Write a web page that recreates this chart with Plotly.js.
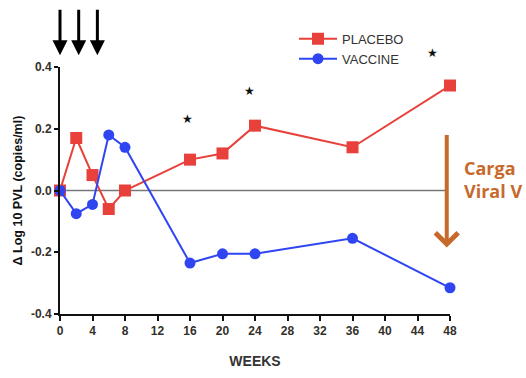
<!DOCTYPE html>
<html>
<head>
<meta charset="utf-8">
<script src="https://cdn.plot.ly/plotly-3.0.1.min.js"></script>
<style>html,body{margin:0;padding:0;background:#fff;overflow:hidden}#chart{width:526px;height:378px}</style>
</head>
<body>
<div id="chart"></div>
<script>
const weeks = [0, 2, 4, 6, 8, 16, 20, 24, 36, 48];
const placebo = [0.0, 0.17, 0.05, -0.06, 0.0, 0.10, 0.12, 0.21, 0.14, 0.34];
const vaccine = [0.0, -0.075, -0.045, 0.18, 0.14, -0.235, -0.205, -0.205, -0.155, -0.315];
const xTicks = [0, 4, 8, 12, 16, 20, 24, 28, 32, 36, 40, 44, 48];
const yTicks = [-0.4, -0.2, 0.0, 0.2, 0.4];
const yTickText = ['-0.4', '-0.2', '0.0', '0.2', '0.4'];
const starWeeks = [15.75, 23.3, 45.8];
const starValues = [0.234, 0.325, 0.449];
const doseWeeks = [0, 2.3, 4.6];

const red = '#e8403a';
const blue = '#2f45f2';
const orange = '#c8692c';
const font = 'Arial, Liberation Sans, sans-serif';

const traces = [
  {x: weeks, y: placebo, name: 'PLACEBO', mode: 'lines+markers', cliponaxis: false,
   line: {color: red, width: 2}, marker: {symbol: 'square', size: 12, color: red}},
  {x: weeks, y: vaccine, name: 'VACCINE', mode: 'lines+markers', cliponaxis: false,
   line: {color: blue, width: 2}, marker: {symbol: 'circle', size: 11, color: blue}}
];

// star values expressed as paper fraction of the y range [-0.4, 0.4]
const annotations = [];
starWeeks.forEach((w, i) => annotations.push({
  x: w, y: (starValues[i] + 0.4) / 0.8, xref: 'x', yref: 'paper', yshift: 10,
  text: '★', showarrow: false, font: {size: 12, color: '#111'}
}));
doseWeeks.forEach(w => annotations.push({
  x: w, y: 1.048, xref: 'x', yref: 'paper', text: '', showarrow: true,
  ax: 0, ay: -47, arrowhead: 2, arrowsize: 1, arrowwidth: 3, arrowcolor: '#000'
}));
annotations.push({
  x: 47.6, y: -0.185, xref: 'x', yref: 'y', text: '', showarrow: true,
  ax: 0, ay: -114, arrowhead: 4, arrowsize: 1.1, arrowwidth: 4, arrowcolor: orange
});
annotations.push({
  x: 1.03, y: 0.545, xref: 'paper', yref: 'paper', xanchor: 'left', yanchor: 'middle', align: 'left',
  text: '<b>Carga<br>Viral V</b>', showarrow: false,
  font: {family: 'Open Sans, Arial, sans-serif', size: 18, color: orange}
});

const layout = {
  width: 526, height: 378,
  margin: {l: 60, r: 76, t: 67, b: 64},
  paper_bgcolor: '#fff', plot_bgcolor: '#fff',
  showlegend: true,
  legend: {x: 0.6, y: 1.175, xanchor: 'left', yanchor: 'top', bgcolor: 'rgba(0,0,0,0)',
           font: {family: font, size: 13, color: '#333'},
           tracegroupgap: 0, itemwidth: 38},
  xaxis: {range: [0, 48], tickvals: xTicks, ticktext: xTicks.map(t => '<b>' + t + '</b>'),
          showgrid: false, zeroline: false, showline: true, linecolor: '#111', linewidth: 2,
          ticks: 'outside', ticklen: 5, tickwidth: 2, tickcolor: '#111',
          tickfont: {family: font, size: 12, color: '#33302a'},
          title: {text: '<b>WEEKS</b>', standoff: 19, font: {family: font, size: 14, color: '#333'}}},
  yaxis: {range: [-0.4, 0.4], tickvals: yTicks, ticktext: yTickText.map(t => '<b>' + t + '</b>'),
          showgrid: false, zeroline: false, showline: true, linecolor: '#111', linewidth: 2,
          ticks: 'outside', ticklen: 4, tickwidth: 2, tickcolor: '#111',
          tickfont: {family: font, size: 12, color: '#33302a'},
          title: {text: '<b>Δ Log 10 PVL (copies/ml)</b>', standoff: 6, font: {family: font, size: 12.5, color: '#111'}}},
  shapes: [{type: 'line', xref: 'x', yref: 'y', x0: 0, x1: 47.5, y0: 0, y1: 0,
            line: {color: '#777', width: 1.5}, layer: 'below'}],
  annotations: annotations
};

Plotly.newPlot('chart', traces, layout, {displayModeBar: false, responsive: false});
</script>
</body>
</html>
